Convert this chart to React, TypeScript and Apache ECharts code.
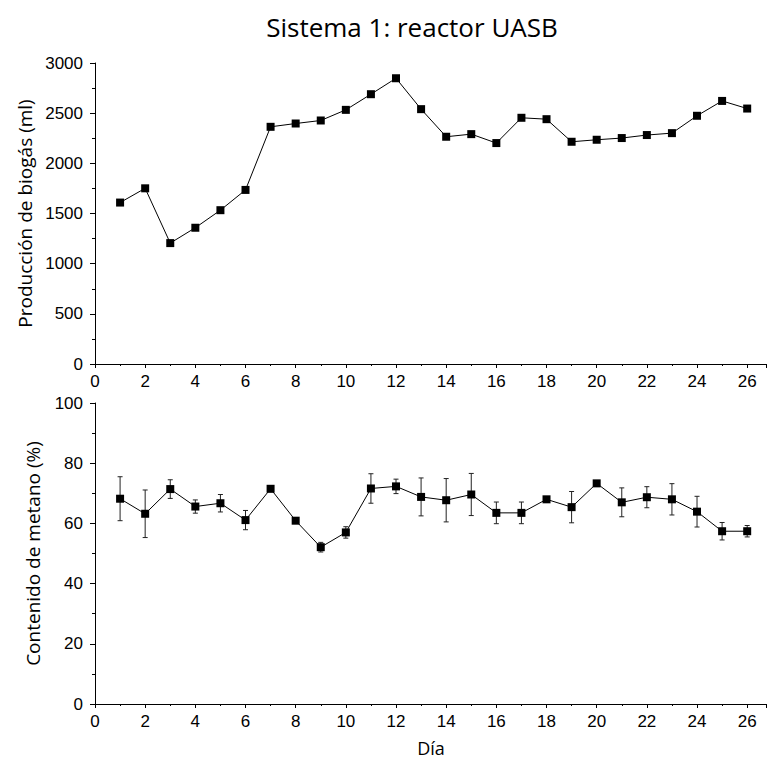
import React, { useEffect, useRef } from "react";
import * as echarts from "echarts";

// Day of the experiment
const days = [1, 2, 3, 4, 5, 6, 7, 8, 9, 10, 11, 12, 13, 14, 15, 16, 17, 18, 19, 20, 21, 22, 23, 24, 25, 26];

// Daily biogas production (ml)
const biogas = [1609, 1751, 1205, 1358, 1533, 1735, 2364, 2397, 2427, 2533, 2689, 2848, 2540, 2265, 2291, 2202, 2454, 2440, 2215, 2235, 2252, 2282, 2301, 2474, 2622, 2546];

// Methane content (%) and its standard deviation
const methane = [68.2, 63.2, 71.4, 65.6, 66.7, 61.1, 71.5, 60.9, 52.1, 57.0, 71.6, 72.3, 68.8, 67.7, 69.6, 63.5, 63.5, 68.0, 65.4, 73.3, 67.0, 68.7, 68.0, 63.9, 57.4, 57.4];
const methaneErr = [7.3, 7.9, 3.1, 2.2, 2.9, 3.2, 1.0, 0.8, 1.6, 1.9, 4.9, 2.4, 6.3, 7.2, 7.0, 3.6, 3.6, 0.8, 5.2, 0.8, 4.8, 3.5, 5.2, 5.1, 2.9, 1.9];

const titleText = "Sistema 1: reactor UASB";
const xName = "Día";
const yNameTop = "Producción de biogás (ml)";
const yNameBottom = "Contenido de metano (%)";

const tickFont = "'Liberation Sans', Arial, sans-serif";
const titleFont = "'Open Sans', 'Noto Sans', sans-serif";

function xAxisCfg(gridIndex: number) {
  return {
    type: "value" as const,
    gridIndex,
    min: 0,
    max: 26.75,
    interval: 2,
    axisLine: { show: true, onZero: false, lineStyle: { color: "#000", width: 1 } },
    axisTick: { show: true, length: 4, lineStyle: { color: "#000" } },
    minorTick: { show: true, splitNumber: 2, length: 2, lineStyle: { color: "#000" } },
    axisLabel: {
      color: "#000",
      fontFamily: tickFont,
      fontSize: 17,
      margin: 9,
      showMaxLabel: false,
      formatter: (v: number) => String(v),
    },
    splitLine: { show: false },
  };
}

function yAxisCfg(gridIndex: number, max: number, interval: number, name: string, nameGap: number) {
  return {
    type: "value" as const,
    gridIndex,
    min: 0,
    max,
    interval,
    name,
    nameLocation: "middle" as const,
    nameGap,
    nameRotate: 90,
    nameTextStyle: { color: "#000", fontFamily: titleFont, fontSize: 19 },
    axisLine: { show: true, lineStyle: { color: "#000", width: 1 } },
    axisTick: { show: true, length: 5, lineStyle: { color: "#000" } },
    minorTick: { show: true, splitNumber: 2, length: 3, lineStyle: { color: "#000" } },
    axisLabel: {
      color: "#000",
      fontFamily: tickFont,
      fontSize: 17,
      margin: 12,
      formatter: (v: number) => String(v),
    },
    splitLine: { show: false },
  };
}

export default function App() {
  const ref = useRef<HTMLDivElement>(null);

  useEffect(() => {
    if (!ref.current) return;
    const chart = echarts.init(ref.current, null, { renderer: "svg" });

    const biogasData = days.map((d, i) => [d, biogas[i]]);
    const methaneData = days.map((d, i) => [d, methane[i]]);
    const errData = days.map((d, i) => [d, methane[i] - methaneErr[i], methane[i] + methaneErr[i]]);

    chart.setOption({
      animation: false,
      backgroundColor: "#fff",
      grid: [
        { left: 95, right: 1, top: 63, height: 301 },
        { left: 95, right: 1, top: 403, height: 301 },
      ],
      xAxis: [xAxisCfg(0), xAxisCfg(1)],
      yAxis: [
        yAxisCfg(0, 3000, 500, yNameTop, 61),
        yAxisCfg(1, 100, 20, yNameBottom, 53),
      ],
      graphic: [
        {
          type: "text",
          x: 412,
          y: 27,
          style: {
            text: titleText,
            font: `26px ${titleFont}`,
            fill: "#000",
            textAlign: "center",
            textVerticalAlign: "middle",
          },
        },
        {
          type: "text",
          x: 431,
          y: 748,
          style: {
            text: xName,
            font: `18px ${titleFont}`,
            fill: "#000",
            textAlign: "center",
            textVerticalAlign: "middle",
          },
        },
      ],
      series: [
        {
          type: "line",
          xAxisIndex: 0,
          yAxisIndex: 0,
          data: biogasData,
          symbol: "rect",
          symbolSize: 8,
          itemStyle: { color: "#000" },
          lineStyle: { color: "#000", width: 1 },
          z: 3,
        },
        {
          type: "custom",
          xAxisIndex: 1,
          yAxisIndex: 1,
          data: errData,
          z: 2,
          renderItem: (params: any, api: any) => {
            const x = api.value(0);
            const lo = api.coord([x, api.value(1)]);
            const hi = api.coord([x, api.value(2)]);
            const cap = 2.5;
            const style = { stroke: "#222", lineWidth: 1 };
            return {
              type: "group",
              children: [
                { type: "line", shape: { x1: lo[0], y1: lo[1], x2: hi[0], y2: hi[1] }, style },
                { type: "line", shape: { x1: hi[0] - cap, y1: hi[1], x2: hi[0] + cap, y2: hi[1] }, style },
                { type: "line", shape: { x1: lo[0] - cap, y1: lo[1], x2: lo[0] + cap, y2: lo[1] }, style },
              ],
            };
          },
        },
        {
          type: "line",
          xAxisIndex: 1,
          yAxisIndex: 1,
          data: methaneData,
          symbol: "rect",
          symbolSize: 8,
          itemStyle: { color: "#000" },
          lineStyle: { color: "#000", width: 1 },
          z: 3,
        },
      ],
    });

    return () => chart.dispose();
  }, []);

  return (
    <div
      ref={ref}
      style={{ position: "fixed", left: 0, top: 0, width: 767, height: 771, background: "#fff" }}
    />
  );
}
